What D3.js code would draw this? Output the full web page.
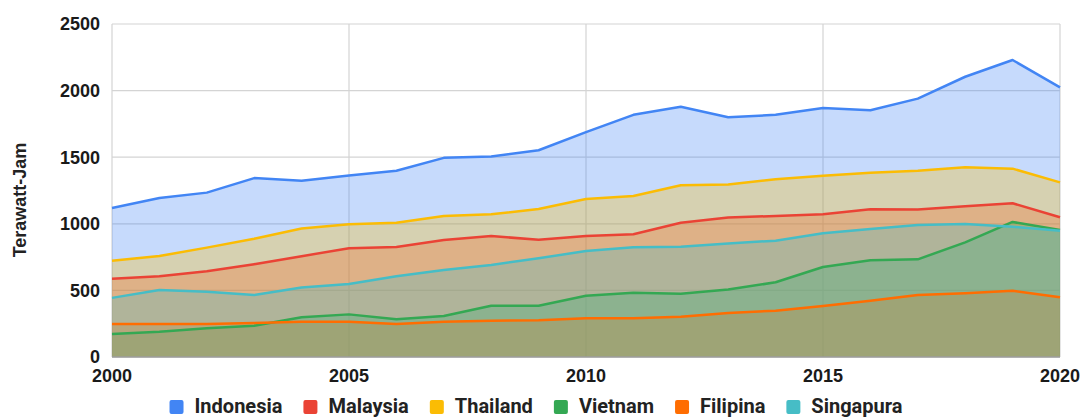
<!DOCTYPE html>
<html lang="id">
<head>
<meta charset="UTF-8">
<title>Terawatt-Jam</title>
<script src="https://d3js.org/d3.v7.min.js"></script>
<style>
  body { margin: 0; padding: 0; background: #fff; }
  svg { display: block; font-family: "Liberation Sans", Arial, sans-serif; }
  .tick-label { font-size: 18px; font-weight: bold; fill: #1a1a1a; }
  .legend text { font-family: Roboto, "Liberation Sans", sans-serif; font-size: 20px; font-weight: bold; fill: #222; }
</style>
</head>
<body>
<svg width="1082" height="419"></svg>
<script>
const width = 1082, height = 419;

// data
const years = d3.range(2000, 2021);
const seriesNames = ["Indonesia", "Malaysia", "Thailand", "Vietnam", "Filipina", "Singapura"];
const colors = ["#4285F4", "#EA4335", "#FBBC04", "#34A853", "#FF6D01", "#46BDC6"];

const indonesia = [1118, 1193, 1234, 1343, 1324, 1363, 1398, 1495, 1505, 1552, 1688, 1818, 1879, 1800, 1818, 1869, 1853, 1940, 2104, 2230, 2024];
const malaysia  = [587, 606, 643, 697, 757, 817, 825, 878, 908, 880, 908, 921, 1008, 1047, 1059, 1071, 1109, 1107, 1131, 1154, 1049];
const thailand  = [723, 758, 821, 888, 964, 996, 1008, 1059, 1071, 1111, 1186, 1209, 1289, 1295, 1334, 1361, 1384, 1399, 1424, 1414, 1311];
const vietnam   = [173, 190, 215, 235, 298, 320, 284, 308, 385, 385, 460, 483, 475, 506, 561, 676, 726, 733, 861, 1014, 953];
const filipina  = [248, 248, 248, 255, 265, 265, 248, 265, 273, 275, 290, 290, 303, 330, 348, 383, 423, 465, 478, 498, 448];
const singapura = [444, 503, 489, 465, 521, 548, 606, 653, 691, 741, 796, 824, 828, 853, 873, 929, 961, 991, 998, 978, 948];

const yTicks = [0, 500, 1000, 1500, 2000, 2500];
const xTicks = [2000, 2005, 2010, 2015, 2020];

const allValues = [indonesia, malaysia, thailand, vietnam, filipina, singapura];

const svg = d3.select("svg");

const margin = { left: 112, right: 22, top: 24, bottom: 62 };

const x = d3.scaleLinear()
  .domain([2000, 2020])
  .range([margin.left, width - margin.right]);

const y = d3.scaleLinear()
  .domain([0, 2500])
  .range([height - margin.bottom, margin.top]);

// gridlines
svg.append("g")
  .selectAll("line")
  .data(yTicks)
  .join("line")
  .attr("x1", x(2000)).attr("x2", x(2020))
  .attr("y1", d => y(d)).attr("y2", d => y(d))
  .attr("stroke", "#d4d4d4")
  .attr("stroke-width", 1.2);

svg.append("g")
  .selectAll("line")
  .data(xTicks)
  .join("line")
  .attr("x1", d => x(d)).attr("x2", d => x(d))
  .attr("y1", y(0)).attr("y2", y(2500))
  .attr("stroke", "#d4d4d4")
  .attr("stroke-width", 1.2);

// areas
const area = d3.area()
  .x((d, i) => x(years[i]))
  .y0(y(0))
  .y1(d => y(d));

const line = d3.line()
  .x((d, i) => x(years[i]))
  .y(d => y(d));

svg.append("g")
  .selectAll("path")
  .data(allValues)
  .join("path")
  .attr("d", area)
  .attr("fill", (d, i) => colors[i])
  .attr("fill-opacity", 0.3);

svg.append("g")
  .selectAll("path")
  .data(allValues)
  .join("path")
  .attr("d", line)
  .attr("fill", "none")
  .attr("stroke", (d, i) => colors[i])
  .attr("stroke-width", 2.5)
  .attr("stroke-linejoin", "round");

// baseline
svg.append("line")
  .attr("x1", x(2000)).attr("x2", x(2020))
  .attr("y1", y(0)).attr("y2", y(0))
  .attr("stroke", "#9e9e9e")
  .attr("stroke-width", 1.5);

// y tick labels
svg.append("g")
  .selectAll("text")
  .data(yTicks)
  .join("text")
  .attr("class", "tick-label")
  .attr("x", margin.left - 12)
  .attr("y", d => y(d))
  .attr("dy", "0.35em")
  .attr("text-anchor", "end")
  .text(d => d);

// x tick labels
svg.append("g")
  .selectAll("text")
  .data(xTicks)
  .join("text")
  .attr("class", "tick-label")
  .attr("x", d => x(d))
  .attr("y", y(0) + 25)
  .attr("text-anchor", "middle")
  .text(d => d);

// y title
svg.append("text")
  .attr("transform", `translate(26, 200) rotate(-90)`)
  .attr("text-anchor", "middle")
  .style("font-size", "18px")
  .style("font-weight", "bold")
  .style("fill", "#222")
  .text("Terawatt-Jam");

// legend
const legend = svg.append("g").attr("class", "legend");
const items = legend.selectAll("g")
  .data(seriesNames)
  .join("g");

items.append("rect")
  .attr("width", 14).attr("height", 14)
  .attr("rx", 2)
  .attr("y", -13)
  .attr("fill", (d, i) => colors[i]);

items.append("text")
  .attr("x", 25)
  .attr("y", 0)
  .text(d => d);

let cursor = 0;
items.each(function () {
  const g = d3.select(this);
  g.attr("transform", `translate(${cursor},0)`);
  const w = g.select("text").node().getComputedTextLength();
  cursor += 25 + w + 21;
});
const legendWidth = cursor - 21;
legend.attr("transform", `translate(${536 - legendWidth / 2}, 413)`);
</script>
</body>
</html>
